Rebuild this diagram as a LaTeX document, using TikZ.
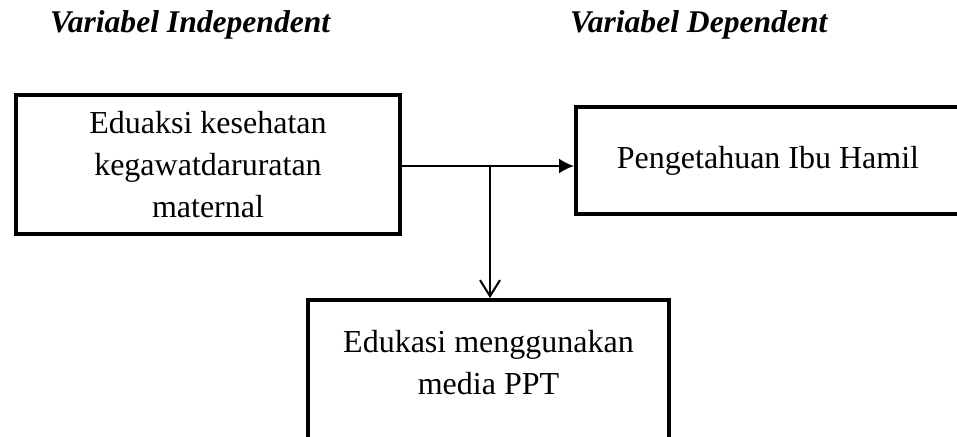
\documentclass[tikz,border=0pt]{standalone}
\usepackage{fontspec}
\setmainfont{Liberation Serif}
\usetikzlibrary{arrows.meta}
\tikzset{
  box/.style={draw=black, line width=4pt, rectangle, align=center, inner sep=0pt,
    font=\fontsize{32}{42}\selectfont},
  heading/.style={anchor=base west, inner sep=0pt, font=\fontsize{31.6}{36}\selectfont\bfseries\itshape},
  conn/.style={draw=black, line width=2pt},
}
\begin{document}
\begin{tikzpicture}[x=1pt, y=-1pt]
\useasboundingbox (0,0) rectangle (957,436);
\clip (0,0) rectangle (957,436);
\fill[white] (0,0) rectangle (957,436);
\node[heading] (hind) at (50,33) {Variabel Independent};
\node[heading] (hdep) at (570,33) {Variabel Dependent};
\node[box, minimum width=384pt, minimum height=139pt] (edu) at (208,164.5)
  {Eduaksi kesehatan\\kegawatdaruratan\\maternal};
\node[box, minimum width=384pt, minimum height=107pt] (peng) at (768,160.5)
  {Pengetahuan Ibu Hamil};
\node[box, minimum width=361pt, minimum height=180pt] (ppt) at (488.5,390)
  {Edukasi menggunakan\\media PPT\\\strut};
\coordinate (j) at (490,166);
\draw[conn, -{Latex[length=15pt,width=15pt]}] (edu.east |- j) -- (peng.west |- j);
\draw[conn, -{Straight Barb[length=16pt,width=20pt]}] (j) -- (ppt.north -| j);
\end{tikzpicture}
\end{document}
